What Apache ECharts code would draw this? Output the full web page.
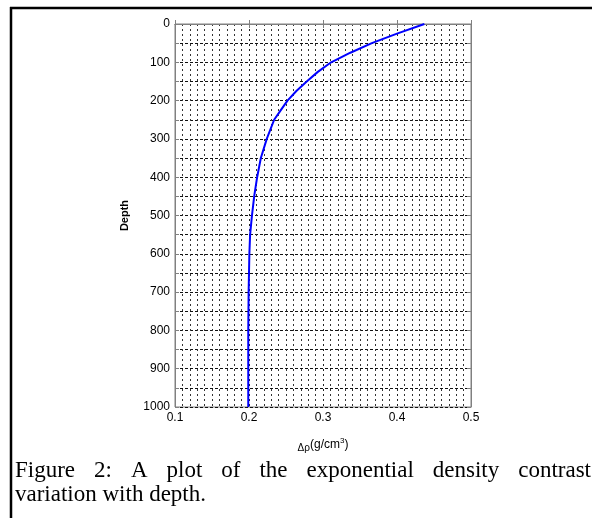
<!DOCTYPE html>
<html>
<head>
<meta charset="utf-8">
<script src="https://cdn.jsdelivr.net/npm/echarts@6/dist/echarts.min.js"></script>
<style>
html, body { margin: 0; padding: 0; background: #fff; }
#densityView { width: 592px; height: 518px; }
</style>
</head>
<body>
<div id="densityView"></div>
<script>
// depth (m) and density contrast
const depths = [0, 25, 50, 75, 100, 125, 150, 175, 200, 225, 250, 300, 350, 400, 450, 500, 550, 600, 700, 800, 900, 1000]
const contrast = [0.437, 0.400, 0.366, 0.337, 0.311, 0.293, 0.278, 0.264, 0.252, 0.243, 0.234, 0.224, 0.216, 0.211, 0.207, 0.204, 0.2015, 0.2005, 0.1995, 0.199, 0.199, 0.199]
const depthLabels = [0, 100, 200, 300, 400, 500, 600, 700, 800, 900, 1000]
const contrastLabels = ['0.1', '0.2', '0.3', '0.4', '0.5']
const captionLine1 = ['Figure', '2:', 'A', 'plot', 'of', 'the', 'exponential', 'density', 'contrast']
const captionLine2 = 'variation with depth.'

const captionFont = '23px "Liberation Serif", "Times New Roman", serif'

// spread words across the line like a justified paragraph
function justifyWords(words, left, right, font) {
  const ctx = document.createElement('canvas').getContext('2d')
  ctx.font = font
  const widths = words.map(w => ctx.measureText(w).width)
  const total = widths.reduce((a, b) => a + b, 0)
  const gap = (right - left - total) / (words.length - 1)
  let x = left
  return words.map((w, i) => {
    const pos = x
    x += widths[i] + gap
    return pos
  })
}

const chart = echarts.init(document.getElementById('densityView'))
const wordX = justifyWords(captionLine1, 15, 591, captionFont)

const captionItems = captionLine1.map((w, i) => ({
  type: 'text',
  x: wordX[i],
  y: 459,
  style: { text: w, font: captionFont, fill: '#000' }
}))
captionItems.push({
  type: 'text',
  x: 15,
  y: 483,
  style: { text: captionLine2, font: captionFont, fill: '#000' }
})

const labelStyle = { color: '#000', fontFamily: 'Liberation Sans, Arial', fontSize: 12 }

const option = {
  animation: false,
  backgroundColor: '#fff',
  grid: {
    left: 175,
    top: 24,
    width: 296,
    height: 383,
    show: true,
    borderColor: '#808080',
    borderWidth: 1
  },
  xAxis: [
    {
      type: 'value',
      min: 0.1,
      max: 0.5,
      interval: 0.1,
      position: 'bottom',
      name: '{d|Δρ}{n|(g/cm}{s|3}{n|)}',
      nameLocation: 'middle',
      nameGap: 30,
      nameTextStyle: {
        rich: {
          d: { fontSize: 10, fontFamily: 'Liberation Sans, Arial', color: '#000', verticalAlign: 'bottom', padding: [4, 0, 0, 0] },
          n: { fontSize: 12, fontFamily: 'Liberation Sans, Arial', color: '#000' },
          s: { fontSize: 8, fontFamily: 'Liberation Sans, Arial', color: '#000', padding: [0, 0, 8, 0] }
        }
      },
      axisLine: { lineStyle: { color: '#808080' } },
      axisTick: { inside: true, length: 4, lineStyle: { color: '#808080' } },
      axisLabel: {
        ...labelStyle,
        margin: 5,
        formatter: v => contrastLabels.find(l => Math.abs(parseFloat(l) - v) < 1e-6) || ''
      },
      splitLine: { show: true, lineStyle: { color: '#222', type: [2, 3], width: 1 } },
      minorTick: { show: false, splitNumber: 10 },
      minorSplitLine: { show: true, lineStyle: { color: '#333', type: [2, 3], width: 1 } }
    },
    {
      type: 'value',
      min: 0.1,
      max: 0.5,
      interval: 0.1,
      position: 'top',
      axisLine: { lineStyle: { color: '#808080' } },
      axisTick: { inside: true, length: 4, lineStyle: { color: '#808080' } },
      axisLabel: { show: false },
      splitLine: { show: false }
    }
  ],
  yAxis: [
    {
      type: 'value',
      inverse: true,
      min: 0,
      max: 1000,
      interval: 50,
      name: 'Depth',
      nameLocation: 'middle',
      nameGap: 45,
      nameTextStyle: { color: '#000', fontFamily: 'Liberation Sans, Arial', fontSize: 11, fontWeight: 'bold' },
      axisLine: { lineStyle: { color: '#808080' } },
      axisTick: { inside: true, length: 4, lineStyle: { color: '#808080' } },
      axisLabel: {
        ...labelStyle,
        margin: 5,
        formatter: v => (depthLabels.includes(v) ? String(v) : '')
      },
      splitLine: { show: true, lineStyle: { color: '#111', type: [3, 2], width: 1 } }
    },
    {
      type: 'value',
      inverse: true,
      min: 0,
      max: 1000,
      interval: 50,
      position: 'right',
      axisLine: { show: true, lineStyle: { color: '#808080' } },
      axisTick: { show: true, inside: true, length: 4, lineStyle: { color: '#808080' } },
      axisLabel: { show: false },
      splitLine: { show: false }
    }
  ],
  series: [
    {
      type: 'line',
      data: depths.map((d, i) => [contrast[i], d]),
      showSymbol: false,
      smooth: false,
      lineStyle: { color: '#0000ff', width: 2 },
      z: 5
    }
  ],
  graphic: [
    { type: 'line', shape: { x1: 10, y1: 8, x2: 592, y2: 8 }, style: { stroke: '#000', lineWidth: 2.5 } },
    { type: 'line', shape: { x1: 11, y1: 7, x2: 11, y2: 518 }, style: { stroke: '#000', lineWidth: 2.5 } },
    ...captionItems
  ]
}

chart.setOption(option)
</script>
</body>
</html>
